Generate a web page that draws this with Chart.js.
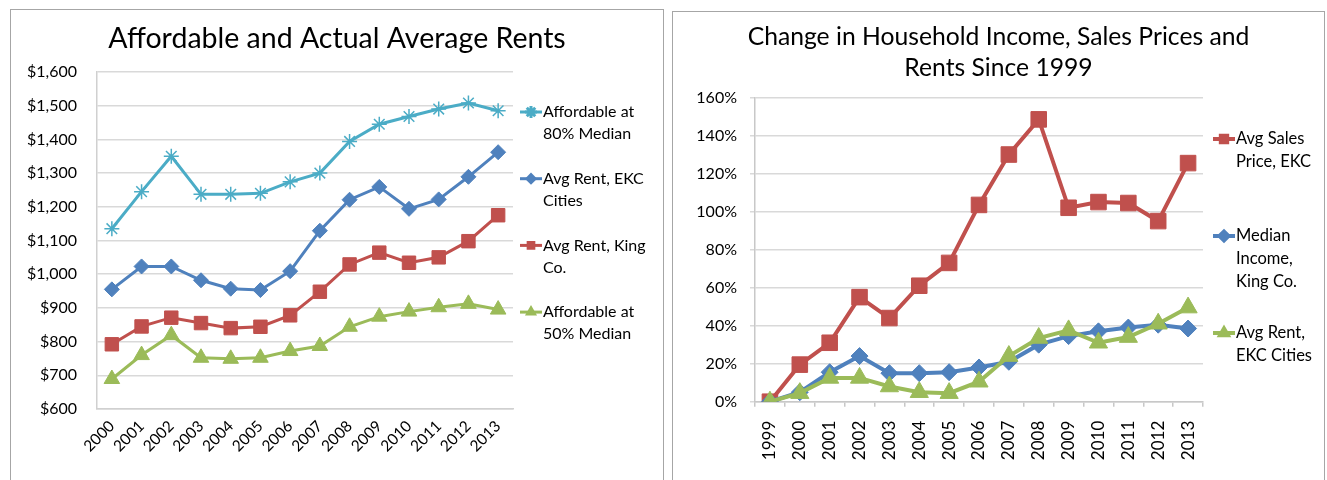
<!DOCTYPE html>
<html><head><meta charset="utf-8">
<script src="https://cdn.jsdelivr.net/npm/chart.js@4.4.1/dist/chart.umd.min.js"></script>
<style>
html,body{margin:0;padding:0;background:#fff;width:1327px;height:480px;overflow:hidden;}
.panel{position:absolute;border:1px solid #a6a6a6;background:#fff;}
#p1{left:10px;top:9px;width:652px;height:490px;}
#p2{left:672px;top:11px;width:651px;height:490px;}
canvas{display:block;}
</style></head><body>
<div class="panel" id="p1"><canvas id="c1" width="652" height="470"></canvas></div>
<div class="panel" id="p2"><canvas id="c2" width="651" height="468"></canvas></div>
<script>
// ---------- Chart 1 data ----------
const rentYears = ['2000','2001','2002','2003','2004','2005','2006','2007','2008','2009','2010','2011','2012','2013'];
const affordable80 = [1135, 1245, 1350, 1237, 1237, 1240, 1274, 1300, 1394, 1445, 1468, 1490, 1508, 1485];
const avgRentEKC   = [955, 1023, 1023, 982, 957, 953, 1009, 1129, 1221, 1259, 1194, 1222, 1289, 1362];
const avgRentKing  = [792, 845, 871, 855, 840, 844, 878, 948, 1029, 1064, 1034, 1050, 1098, 1175];
const affordable50 = [689, 760, 819, 752, 749, 752, 772, 787, 844, 874, 889, 902, 912, 895];
const rentLabels = ['Affordable at 80% Median','Avg Rent, EKC Cities','Avg Rent, King Co.','Affordable at 50% Median'];
const rentLegendLines = [['Affordable at','80% Median'],['Avg Rent, EKC','Cities'],['Avg Rent, King','Co.'],['Affordable at','50% Median']];
const rentTitle = 'Affordable and Actual Average Rents';

// ---------- Chart 2 data ----------
const changeYears = ['1999','2000','2001','2002','2003','2004','2005','2006','2007','2008','2009','2010','2011','2012','2013'];
const salesPriceChange   = [0, 19.5, 31, 55, 44, 61, 73, 103.5, 130, 148.5, 102, 105, 104.5, 95, 125.5];
const medianIncomeChange = [0, 5, 15.5, 24, 15, 15, 15.5, 18, 21, 30, 34.5, 37, 39, 40.5, 38.5];
const avgRentChange      = [0, 4.5, 12.5, 12.5, 8, 5, 4.5, 10.5, 24, 33.5, 37.5, 31, 34, 41, 49.5];
const changeLabels = ['Avg Sales Price, EKC','Median Income, King Co.','Avg Rent, EKC Cities'];
const changeLegendLines = [['Avg Sales','Price, EKC'],['Median','Income,','King Co.'],['Avg Rent,','EKC Cities']];
const changeTitle = ['Change in Household Income, Sales Prices and','Rents Since 1999'];

const CYAN = '#4BACC6', BLUE = '#4F81BD', RED = '#C0504D', GREEN = '#9BBB59';
Chart.defaults.font.family = 'Lato, "Open Sans", sans-serif';
Chart.defaults.color = '#000';

const lineLegend = {
  id: 'lineLegend',
  afterDraw(chart, args, opts) {
    if (!opts || !opts.items) return;
    const ctx = chart.ctx;
    ctx.save();
    ctx.font = opts.font;
    ctx.textBaseline = 'middle';
    ctx.textAlign = 'left';
    opts.items.forEach((lines, i) => {
      const ds = chart.data.datasets[i];
      const y0 = opts.top + i * opts.itemGap;
      ctx.strokeStyle = ds.borderColor;
      ctx.lineWidth = ds.borderWidth;
      ctx.beginPath();
      ctx.moveTo(opts.x, y0);
      ctx.lineTo(opts.x + opts.lineLen, y0);
      ctx.stroke();
      ctx.fillStyle = ds.pointBackgroundColor;
      ctx.strokeStyle = ds.pointBorderColor;
      const isStar = ds.pointStyle === 'star';
      Chart.helpers.drawPoint(ctx, {pointStyle: ds.pointStyle, radius: isStar ? opts.markerRadius + 2 : opts.markerRadius, borderWidth: isStar ? 1 : 1, rotation: 0}, opts.x + opts.lineLen / 2, y0);
      ctx.fillStyle = '#000';
      lines.forEach((t, j) => ctx.fillText(t, opts.x + opts.lineLen + 1, y0 + j * opts.lineHeight));
    });
    ctx.restore();
  }
};

function ds(label, data, color, style, radius, width, order) {
  return {
    label, data, borderColor: color, backgroundColor: color, borderWidth: width,
    pointStyle: style, pointRadius: radius, pointHoverRadius: radius,
    pointBackgroundColor: color, pointBorderColor: color,
    pointBorderWidth: style === 'star' ? 1.5 : 1, tension: 0, order
  };
}

function spacer(w) {
  return {
    type: 'linear', position: 'right', display: true,
    ticks: {display: false}, grid: {display: false, drawTicks: false}, border: {display: false},
    afterFit(s) { s.width = w; }
  };
}

new Chart(document.getElementById('c1'), {
  type: 'line',
  data: {
    labels: rentYears,
    datasets: [
      ds(rentLabels[0], affordable80, CYAN, 'star', 7.5, 3, 0),
      ds(rentLabels[1], avgRentEKC, BLUE, 'rectRot', 7.5, 3, 1),
      ds(rentLabels[2], avgRentKing, RED, 'rect', 9.5, 3, 2),
      ds(rentLabels[3], affordable50, GREEN, 'triangle', 9, 3, 3)
    ]
  },
  options: {
    responsive: false, animation: false, events: [],
    layout: {padding: 0},
    plugins: {
      legend: {display: false}, tooltip: {enabled: false},
      title: {display: true, text: rentTitle, color: '#000', font: {size: 28.5, weight: 'normal', lineHeight: '32px'}, padding: {top: 13, bottom: 17}},
      lineLegend: {items: rentLegendLines, x: 509, top: 102, itemGap: 66.7, lineLen: 22, lineHeight: 22, markerRadius: 4, font: '16px Lato'}
    },
    scales: {
      x: {
        offset: true,
        grid: {display: false, drawTicks: false},
        border: {display: true, color: '#d0d0d0', width: 1.5},
        ticks: {minRotation: 45, maxRotation: 45, padding: 8, font: {size: 15.5}, color: '#000', autoSkip: false},
        afterFit(s) { s.height = 71; }
      },
      y: {
        min: 600, max: 1600,
        ticks: {stepSize: 100, padding: 20, font: {size: 16}, color: '#000', callback: v => '$' + v.toLocaleString('en-US')},
        grid: {color: '#d9d9d9', lineWidth: 1.5, drawTicks: false},
        border: {display: true, color: '#d0d0d0', width: 1.5},
        afterFit(s) { s.width = 86; }
      },
      pad: spacer(150)
    }
  },
  plugins: [lineLegend]
});

new Chart(document.getElementById('c2'), {
  type: 'line',
  data: {
    labels: changeYears,
    datasets: [
      ds(changeLabels[0], salesPriceChange, RED, 'rect', 11, 4, 2),
      ds(changeLabels[1], medianIncomeChange, BLUE, 'rectRot', 8.5, 4, 1),
      ds(changeLabels[2], avgRentChange, GREEN, 'triangle', 10.5, 4, 0)
    ]
  },
  options: {
    responsive: false, animation: false, events: [],
    layout: {padding: 0},
    plugins: {
      legend: {display: false}, tooltip: {enabled: false},
      title: {display: true, text: changeTitle, color: '#000', font: {size: 24.7, weight: 'normal', lineHeight: '31px'}, padding: {top: 9.5, bottom: 14}},
      lineLegend: {items: changeLegendLines, x: 540, top: 127, itemGap: 97, lineLen: 22, lineHeight: 23, markerRadius: 4.5, font: '16.5px Lato'}
    },
    scales: {
      x: {
        offset: true,
        grid: {display: true, drawOnChartArea: false, drawTicks: true, tickLength: 5, offset: true, color: '#c8c8c8', lineWidth: 1.5},
        border: {display: true, color: '#c8c8c8', width: 1.5},
        ticks: {minRotation: 90, maxRotation: 90, padding: 14, font: {size: 17}, color: '#000', autoSkip: false},
        afterFit(s) { s.height = 78.3; }
      },
      y: {
        min: 0, max: 160,
        ticks: {stepSize: 20, padding: 13, font: {size: 16}, color: '#000', callback: v => v + '%'},
        grid: {color: '#d9d9d9', lineWidth: 1.5, drawTicks: true, tickLength: 5},
        border: {display: true, color: '#c8c8c8', width: 1.5},
        afterFit(s) { s.width = 82; }
      },
      pad: spacer(121)
    }
  },
  plugins: [lineLegend]
});
</script>
</body></html>
